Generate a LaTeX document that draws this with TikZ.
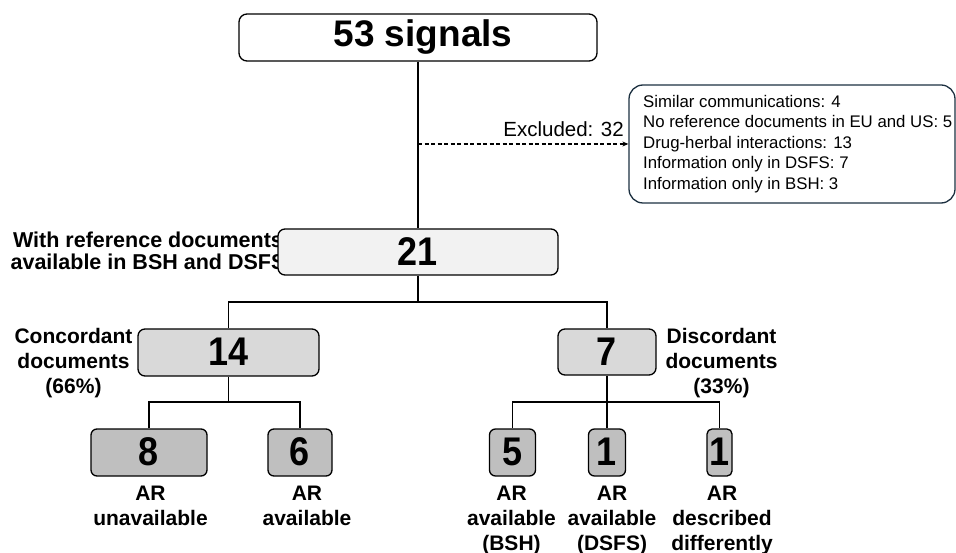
\documentclass[tikz,border=0pt]{standalone}
\usepackage{fontspec}
\setmainfont{Liberation Sans}
\newfontfamily\numfont[FakeStretch=0.9]{Liberation Sans}
\usetikzlibrary{arrows.meta}
\definecolor{exclline}{RGB}{28,48,64}
\definecolor{fillA}{RGB}{242,242,242}
\definecolor{fillB}{RGB}{217,217,217}
\definecolor{fillC}{RGB}{191,191,191}
\newcommand{\numtxt}[1]{\raisebox{1.5pt}{#1}}
\begin{document}
\begin{tikzpicture}[x=1pt,y=-1pt,
  numbox/.style={draw=black, line width=1.3pt, rounded corners=7pt, inner sep=0pt,
    font=\numfont\fontsize{40}{40}\selectfont\bfseries},
  sidelbl/.style={font=\fontsize{21}{25}\selectfont\bfseries, align=center, inner sep=0pt},
  conn/.style={line width=1.5pt},
  exclbox/.style={draw=exclline, line width=1.3pt, rounded corners=14pt, inner sep=0pt}]
\useasboundingbox (0,0) rectangle (956,553);

% top
\node[numbox, fill=white, rounded corners=8pt, minimum width=358pt, minimum height=47pt,
  font=\fontsize{37}{37}\selectfont\bfseries] (sig) at (418,37.5) {\hspace*{10pt}53 signals};

% excluded box
\node[exclbox, minimum width=326pt, minimum height=118pt] (excl) at (792,144) {};
\node[anchor=west, align=left, inner sep=0pt, font=\fontsize{16.8}{20.5}\selectfont] (excltxt) at (643,144)
  {Similar communications: 4\\No reference documents in EU and US: 5\\Drug-herbal interactions: 13\\Information only in DSFS: 7\\Information only in BSH: 3};

% side label of 21 (drawn before the box, which covers its end)
\node[sidelbl, font=\fontsize{21.5}{22}\selectfont\bfseries, anchor=north] (reflbl) at (148,231.5)
  {With reference documents\\available in BSH and DSFS};

% 21
\node[numbox, fill=fillA, minimum width=280pt, minimum height=46pt] (n21) at (418,252) {\numtxt{21}};

% level 2
\node[numbox, fill=fillB, minimum width=181pt, minimum height=47pt] (n14) at (228.5,352.5) {\numtxt{14}};
\node[numbox, fill=fillB, minimum width=98pt, minimum height=46pt] (n7) at (607,352) {\numtxt{7}};
\node[sidelbl, anchor=north] (conclbl) at (73.5,328.5) {Concordant\\documents\\(66\%)};
\node[sidelbl, anchor=north] (disclbl) at (721.5,328.5) {Discordant\\documents\\(33\%)};

% level 3
\node[numbox, fill=fillC, rounded corners=6pt, minimum width=116pt, minimum height=47pt] (n8) at (149,452.5) {\numtxt{8}};
\node[numbox, fill=fillC, rounded corners=6pt, minimum width=64pt, minimum height=47pt] (n6) at (300,452.5) {\numtxt{6}};
\node[numbox, fill=fillC, rounded corners=6pt, minimum width=46pt, minimum height=47pt] (n5) at (512.5,452.5) {\numtxt{5}};
\node[numbox, fill=fillC, rounded corners=6pt, minimum width=37pt, minimum height=47pt] (n1a) at (607,452.5) {\numtxt{1}};
\node[numbox, fill=fillC, rounded corners=5pt, minimum width=25pt, minimum height=47pt] (n1b) at (719.5,452.5) {\numtxt{1}};

\node[sidelbl, anchor=north] (l8) at (150.5,486) {AR\\unavailable};
\node[sidelbl, anchor=north] (l6) at (307,486) {AR\\available};
\node[sidelbl, anchor=north] (l5) at (511.5,486) {AR\\available\\(BSH)};
\node[sidelbl, anchor=north] (l1a) at (612,486) {AR\\available\\(DSFS)};
\node[sidelbl, anchor=north] (l1b) at (722,486) {AR\\described\\differently};

% connectors
\coordinate (d0) at (418,144);
\coordinate (j1) at (418,302);
\coordinate (j2) at (228.5,402);
\coordinate (j3) at (607,402);

\draw[conn] (sig.south) -- (n21.north);
\draw[line width=1.1pt, dash pattern=on 4pt off 2.5pt, -{Stealth[length=6pt,width=5pt]}] (d0) -- (excl.west);
\node[anchor=base east, inner sep=0pt, font=\fontsize{20.5}{20.5}\selectfont] (excllbl) at (624,137) {Excluded: 32};

\draw[conn] (n21.south) -- (j1);
\draw[conn] (n14.north) |- (j1) -| (n7.north);
\draw[conn] (n14.south) -- (j2);
\draw[conn] (n8.north) |- (j2) -| (n6.north);
\draw[conn] (n7.south) -- (j3) -- (n1a.north);
\draw[conn] (n5.north) |- (j3) -| (n1b.north);
\end{tikzpicture}
\end{document}
